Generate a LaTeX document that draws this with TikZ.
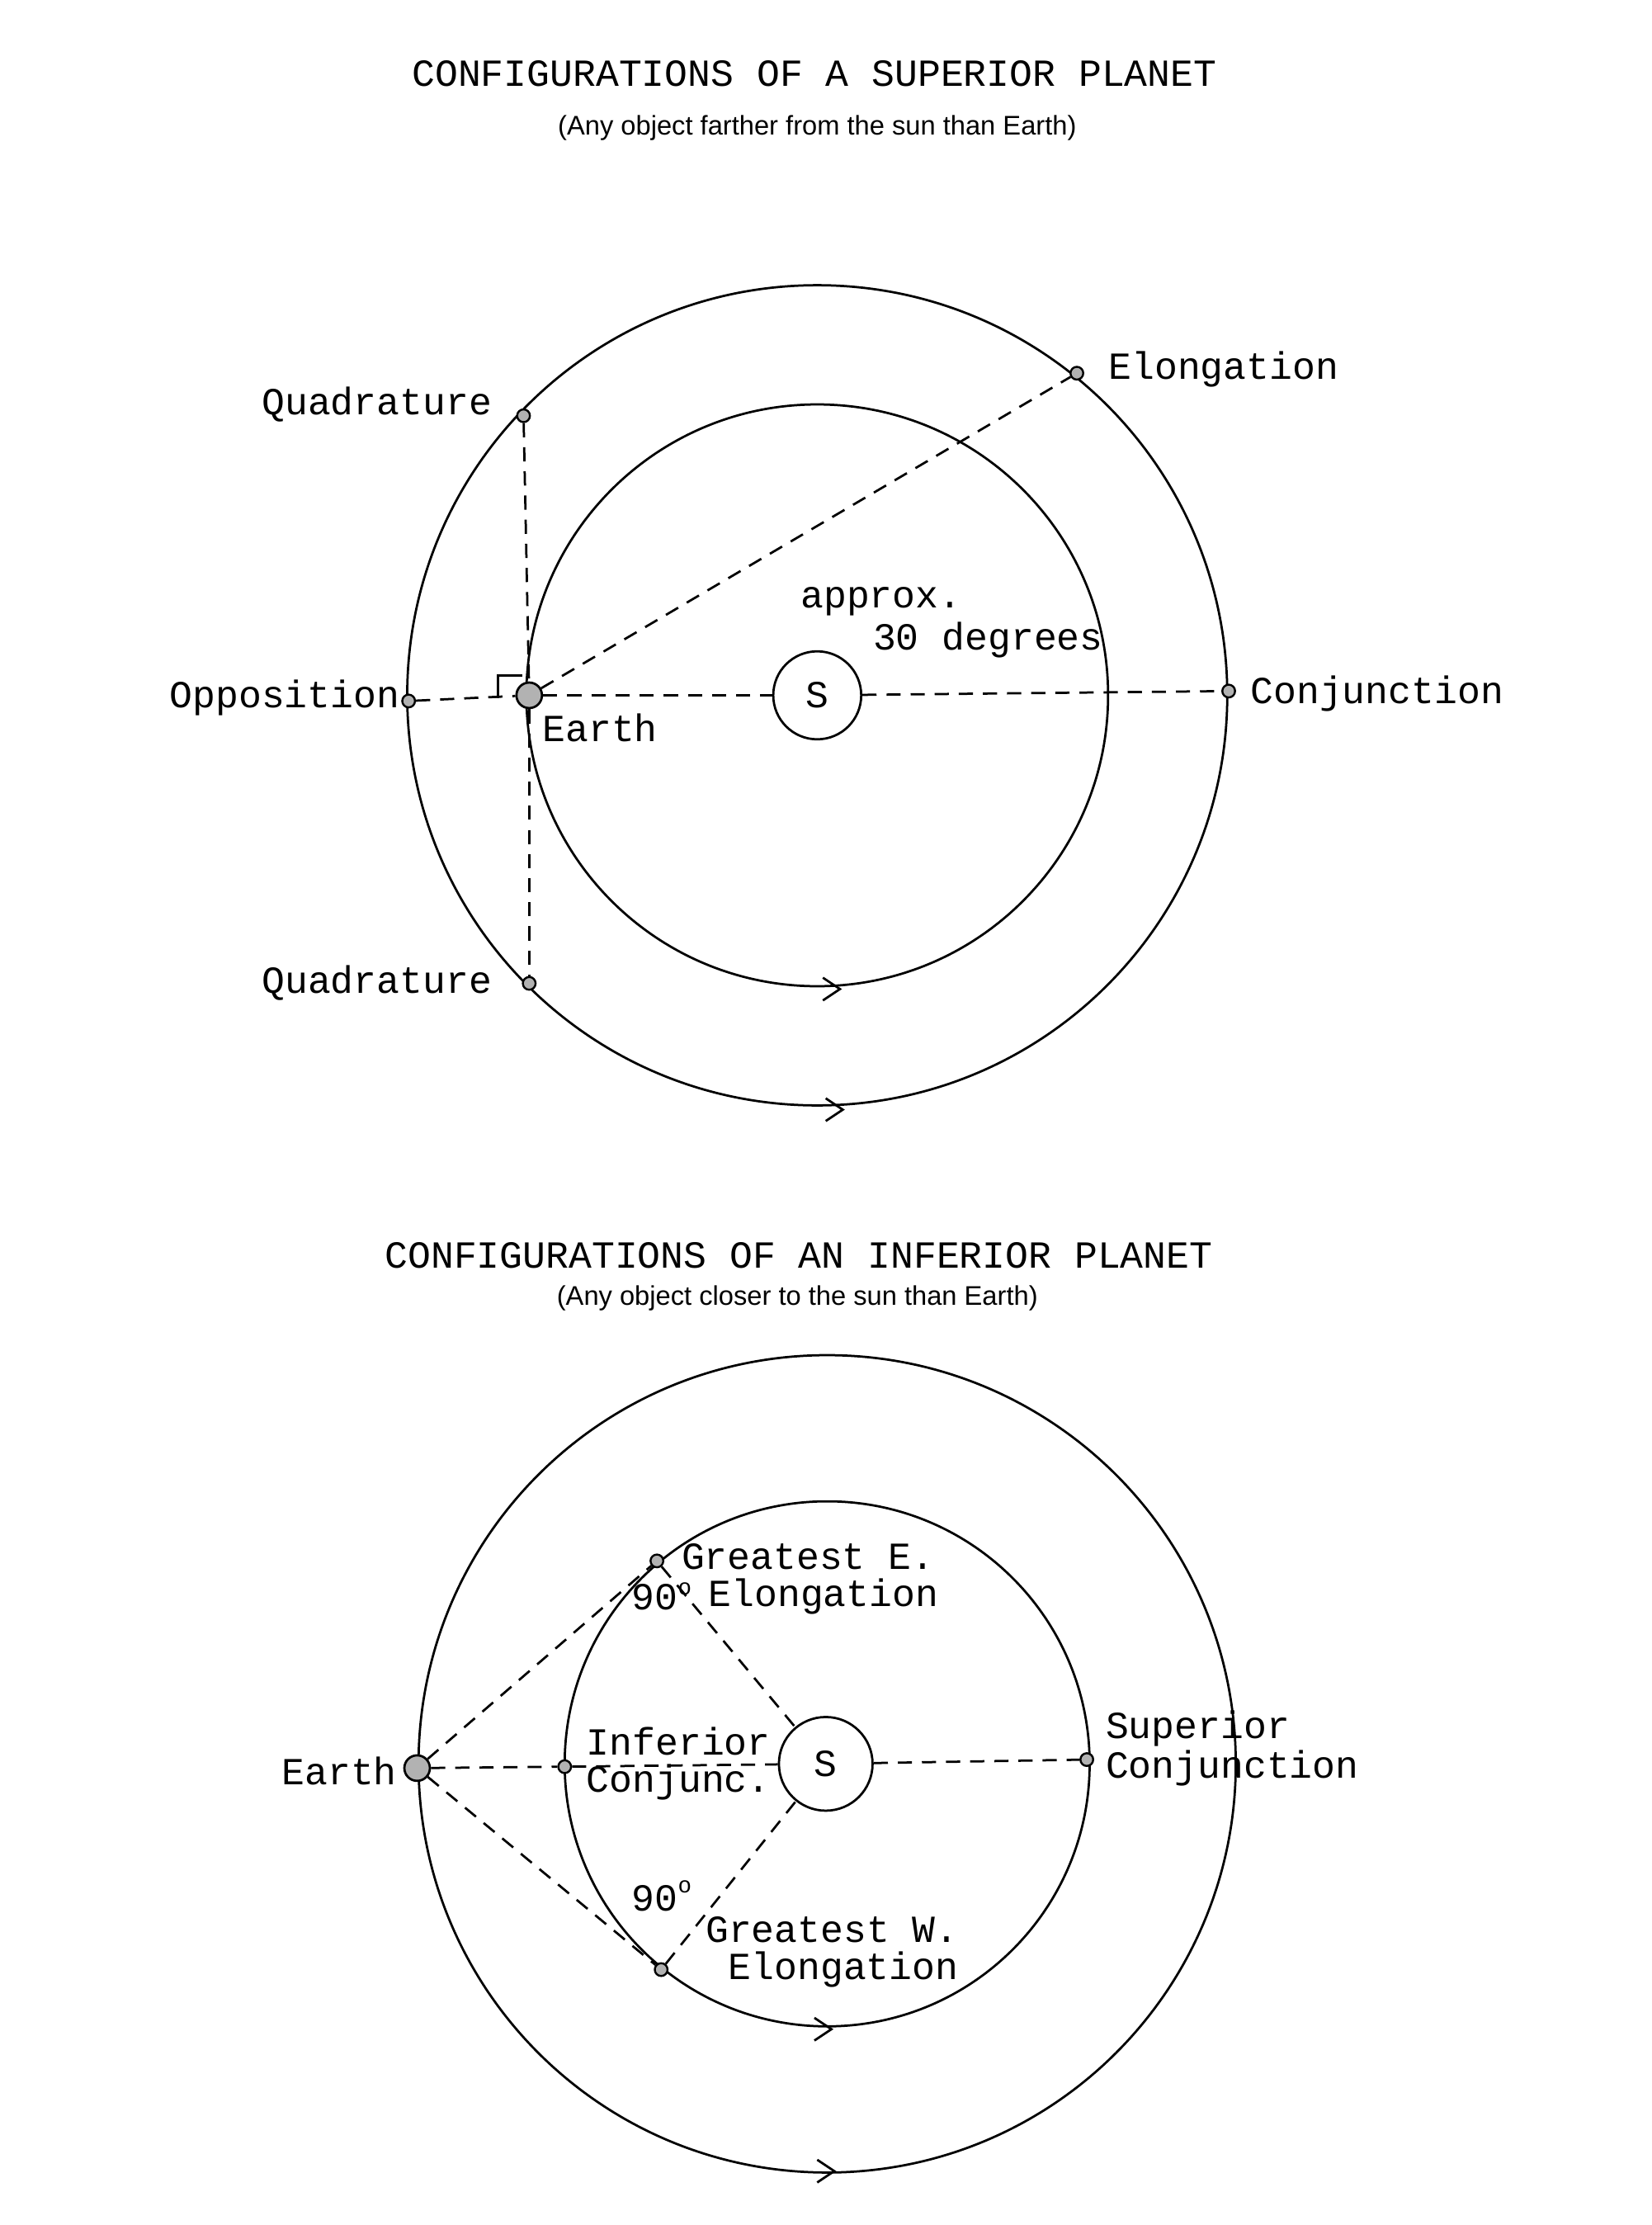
\documentclass[tikz,border=0pt]{standalone}
\usepackage{fontspec}
\setmonofont{Liberation Mono}
\setsansfont{Liberation Sans}
\begin{document}
\begin{tikzpicture}[x=0.5pt,y=-0.5pt,
  lab/.style={font=\ttfamily\fontsize{13.5}{15}\selectfont,inner sep=0pt},
  ttl/.style={font=\ttfamily\fontsize{13.5}{15}\selectfont,inner sep=0pt},
  sub/.style={font=\sffamily\fontsize{9.5}{11}\selectfont,inner sep=0pt},
  orbit/.style={line width=0.8pt},
  dsh/.style={line width=0.8pt,dash pattern=on 5pt off 3.5pt},
  pt/.style={circle,draw,fill=gray!60,line width=0.7pt,minimum size=4.5pt,inner sep=0pt},
  big/.style={circle,draw,fill=gray!60,line width=0.8pt,minimum size=9pt,inner sep=0pt},
  sun/.style={circle,draw,line width=0.8pt,minimum size=31pt,inner sep=0pt,font=\ttfamily\fontsize{13.5}{15}\selectfont},
  chev/.style={line width=0.8pt}]
\useasboundingbox[fill=white] (0,0) rectangle (1164,1568);
% ---------- top ----------
\node[ttl] (t1) at (574,52) {CONFIGURATIONS OF A SUPERIOR PLANET};
\node[sub] (s1) at (576,90) {(Any object farther from the sun than Earth)};
\coordinate (C1) at (576,490);
\draw[orbit] (C1) circle[radius=289];
\draw[orbit] (C1) circle[radius=205];
\node[sun] (S1) at (C1) {S};
\node[big] (E1) at (373,490) {};
\node[pt] (Op) at (288,494) {};
\node[pt] (Cj) at (866,487) {};
\node[pt] (Q1) at (369,293) {};
\node[pt] (Q2) at (373,693) {};
\node[pt] (El) at (759,263) {};
\draw[dsh] (Op) -- (E1);
\draw[dsh] (E1) -- (S1);
\draw[dsh] (S1) -- (Cj);
\draw[dsh] (E1) -- (El);
\draw[dsh] (Q1) -- (E1);
\draw[dsh] (E1) -- (Q2);
\draw[line width=0.7pt] (351,492) -- (351,476) -- (368,476);
\draw[chev] (580,689) -- (592,697) -- (580,705);
\draw[chev] (582,774) -- (594,782) -- (582,790);
\node[lab,anchor=east] (lq1) at (347,285) {Quadrature};
\node[lab,anchor=east] (lq2) at (347,693) {Quadrature};
\node[lab,anchor=west] (lel) at (781,260) {Elongation};
\node[lab,anchor=east] (lop) at (282,492) {Opposition};
\node[lab,anchor=west] (lcj) at (881,489) {Conjunction};
\node[lab,anchor=west] (lea) at (382,513) {Earth};
\node[lab,anchor=west] (lap) at (564,424) {approx.};
\node[lab,anchor=west] (l30) at (615,451) {30 degrees};
% ---------- bottom ----------
\node[ttl] (t2) at (563,885) {CONFIGURATIONS OF AN INFERIOR PLANET};
\node[sub] (s2) at (562,915) {(Any object closer to the sun than Earth)};
\coordinate (C2) at (583,1243);
\draw[orbit] (C2) circle[radius=288];
\draw[orbit] (C2) circle[radius=185];
\node[sun,minimum size=33pt] (S2) at (582,1243) {S};
\node[big] (E2) at (294,1246) {};
\node[pt] (IC) at (398,1245) {};
\node[pt] (SC) at (766,1240) {};
\node[pt] (GE) at (463,1100) {};
\node[pt] (GW) at (466,1388) {};
\draw[dsh] (E2) -- (IC);
\draw[dsh] (IC) -- (S2);
\draw[dsh] (S2) -- (SC);
\draw[dsh] (E2) -- (GE);
\draw[dsh] (E2) -- (GW);
\draw[dsh] (GE) -- (S2);
\draw[dsh] (GW) -- (S2);
\draw[chev] (574,1422) -- (586,1430) -- (574,1438);
\draw[chev] (576,1522) -- (588,1530) -- (576,1538);
\node[lab,anchor=west] (lge) at (480,1097) {Greatest E.};
\node[lab,anchor=west] (l90a) at (445,1125) {90\raisebox{0.7ex}{\fontsize{8}{9}\selectfont o}};
\node[lab,anchor=west] (lge2) at (499,1125) {Elongation};
\node[lab,anchor=west] (lic) at (413,1227) {Inferior};
\node[lab,anchor=west] (lic2) at (413,1256) {Conjunc.};
\node[lab,anchor=west] (lsc) at (779,1218) {Superior};
\node[lab,anchor=west] (lsc2) at (779,1246) {Conjunction};
\node[lab,anchor=east] (le2) at (280,1248) {Earth};
\node[lab,anchor=west] (l90b) at (445,1336) {90\raisebox{0.9ex}{\fontsize{8}{9}\selectfont o}};
\node[lab,anchor=west] (lgw) at (497,1360) {Greatest W.};
\node[lab,anchor=west] (lgw2) at (513,1388) {Elongation};
\end{tikzpicture}
\end{document}
